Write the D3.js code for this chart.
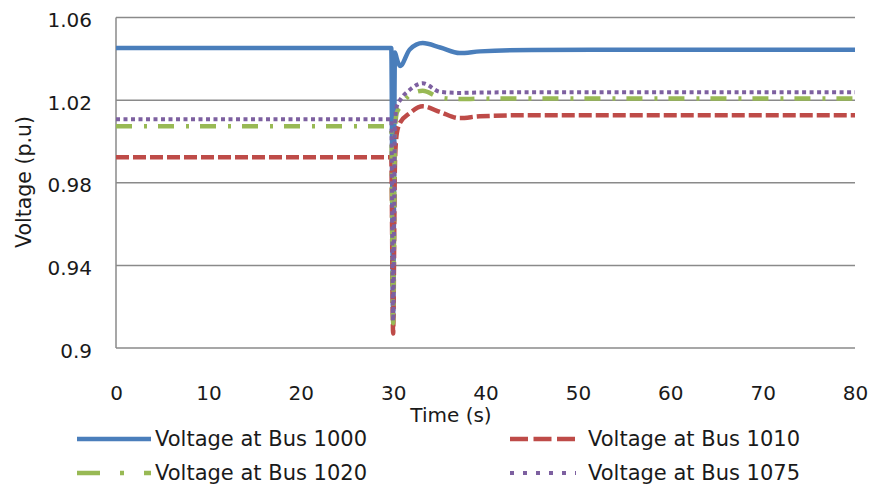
<!DOCTYPE html>
<html>
<head>
<meta charset="utf-8">
<script src="https://cdn.jsdelivr.net/npm/d3@7"></script>
<style>
  body { margin: 0; background: #fff; }
  svg { display: block; font-family: "DejaVu Sans", sans-serif; }
</style>
</head>
<body>
<div id="chart"></div>
<script>
// sample times (s) and bus voltages (p.u)
const time    = [0, 29.8, 30.0, 30.2, 30.4, 30.75, 31.8, 33.2, 35.1, 37.2, 39.4, 45, 60, 80];
const bus1000 = [1.0452, 1.0452, 0.915, 1.043, 1.040, 1.0365, 1.0445, 1.0476, 1.0455, 1.0428, 1.0436, 1.0443, 1.0444, 1.0444];
const bus1010 = [0.9924, 0.9924, 0.907, 0.990, 1.004, 1.009, 1.0137, 1.0170, 1.0142, 1.0113, 1.0122, 1.0127, 1.0127, 1.0127];
const bus1020 = [1.0074, 1.0074, 0.912, 1.005, 1.014, 1.0166, 1.0224, 1.0245, 1.0212, 1.0205, 1.0207, 1.0208, 1.0208, 1.0208];
const bus1075 = [1.0108, 1.0108, 0.913, 1.008, 1.017, 1.020, 1.025, 1.0282, 1.0240, 1.0235, 1.0237, 1.0238, 1.0238, 1.0238];

const seriesNames = ["Voltage at Bus 1000", "Voltage at Bus 1010", "Voltage at Bus 1020", "Voltage at Bus 1075"];
const xTicks = [0, 10, 20, 30, 40, 50, 60, 70, 80];
const yTicks = [0.9, 0.94, 0.98, 1.02, 1.06];

const W = 874, H = 487;
const plot = {left: 116, right: 855, top: 17.5, bottom: 348};

const svg = d3.select("#chart").append("svg")
    .attr("width", W)
    .attr("height", H);

const x = d3.scaleLinear().domain([0, 80]).range([plot.left, plot.right]);
const y = d3.scaleLinear().domain([0.9, 1.06]).range([plot.bottom, plot.top]);

// gridlines
svg.append("g")
    .selectAll("line")
    .data(yTicks.slice(1))
    .join("line")
    .attr("x1", plot.left).attr("x2", plot.right)
    .attr("y1", d => y(d)).attr("y2", d => y(d))
    .attr("stroke", "#8a8a8a")
    .attr("stroke-width", 1.5);

// axes lines
svg.append("line")
    .attr("x1", plot.left).attr("x2", plot.left)
    .attr("y1", plot.top).attr("y2", plot.bottom)
    .attr("stroke", "#8a8a8a").attr("stroke-width", 1.5);
svg.append("line")
    .attr("x1", plot.left).attr("x2", plot.right)
    .attr("y1", plot.bottom).attr("y2", plot.bottom)
    .attr("stroke", "#8a8a8a").attr("stroke-width", 1.5);

// tick labels
const yAxis = d3.axisLeft(y).tickValues(yTicks).tickSize(0).tickPadding(24)
    .tickFormat(d => d === 0.9 ? "0.9" : d3.format(".2f")(d));
svg.append("g")
    .attr("transform", `translate(${plot.left},0)`)
    .call(yAxis)
    .call(g => g.select(".domain").remove())
    .selectAll("text")
    .attr("dy", "0.45em")
    .style("font-size", "20px")
    .style("font-family", "DejaVu Sans, sans-serif")
    .attr("fill", "#1a1a1a");

const xAxis = d3.axisBottom(x).tickValues(xTicks).tickSize(0).tickPadding(38);
svg.append("g")
    .attr("transform", `translate(0,${plot.bottom})`)
    .call(xAxis)
    .call(g => g.select(".domain").remove())
    .selectAll("text")
    .style("font-size", "20px")
    .style("font-family", "DejaVu Sans, sans-serif")
    .attr("fill", "#1a1a1a");

// axis titles
svg.append("text")
    .attr("x", 451).attr("y", 422)
    .attr("text-anchor", "middle")
    .style("font-size", "20px")
    .attr("fill", "#1a1a1a")
    .text("Time (s)");
svg.append("text")
    .attr("transform", "translate(31,182) rotate(-90)")
    .attr("text-anchor", "middle")
    .style("font-size", "20.5px")
    .attr("fill", "#1a1a1a")
    .text("Voltage (p.u)");

const styles = [
    {color: "#4a7ebb", width: 4.5, dash: null, legDash: null},
    {color: "#be4b48", width: 4.5, dash: "13,4", legDash: "18,5.5"},
    {color: "#98b954", width: 4.5, dash: "16,12,3,11", legDash: "23,20,4,20"},
    {color: "#7d60a0", width: 4, dash: "4,3.5", legDash: "4,9"}
];
const allSeries = [bus1000, bus1010, bus1020, bus1075];

const line = d3.line()
    .x(d => x(d[0]))
    .y(d => y(d[1]))
    .curve(d3.curveMonotoneX);

// later series sit on top, as in the picture
allSeries.forEach((vals, i) => {
    const pts = time.map((t, k) => [t, vals[k]]);
    svg.append("path")
        .datum(pts)
        .attr("d", line)
        .attr("fill", "none")
        .attr("stroke", styles[i].color)
        .attr("stroke-width", styles[i].width)
        .attr("stroke-dasharray", styles[i].dash)
        .attr("stroke-linejoin", "round");
});

// legend
const legPos = [
    {lx: 77, tx: 155, y: 439},
    {lx: 510, tx: 588, y: 439},
    {lx: 77, tx: 155, y: 473},
    {lx: 510, tx: 588, y: 473}
];
seriesNames.forEach((name, i) => {
    const p = legPos[i];
    svg.append("line")
        .attr("x1", p.lx).attr("x2", i % 2 === 0 ? p.lx + 74 : p.lx + 66)
        .attr("y1", p.y).attr("y2", p.y)
        .attr("stroke", styles[i].color)
        .attr("stroke-width", styles[i].width)
        .attr("stroke-dasharray", styles[i].legDash);
    svg.append("text")
        .attr("x", p.tx).attr("y", p.y + 7)
        .style("font-size", "21px")
        .attr("fill", "#1a1a1a")
        .text(name);
});
</script>
</body>
</html>
